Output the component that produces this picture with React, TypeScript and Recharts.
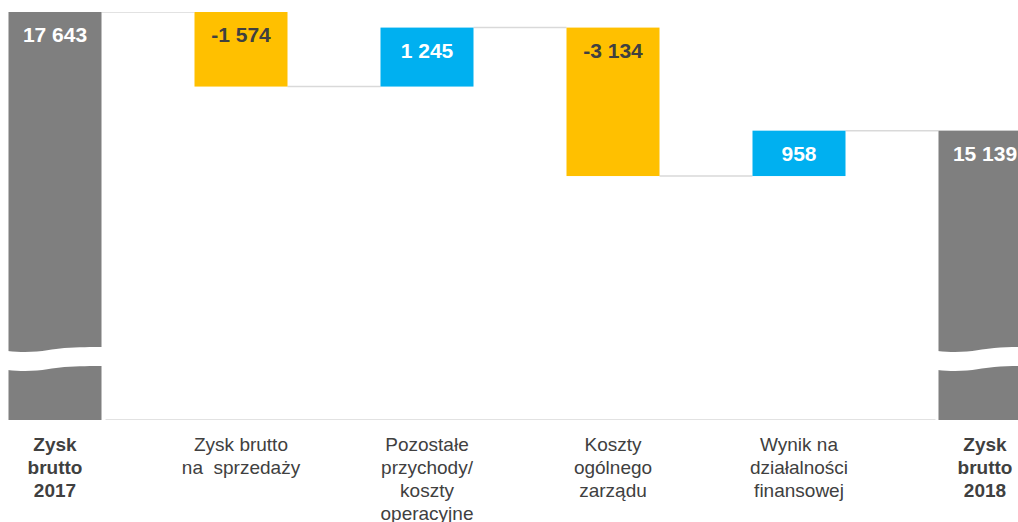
import { BarChart, Bar, XAxis, YAxis } from "recharts";

const CATEGORIES = [
  "Zysk\nbrutto\n2017",
  "Zysk brutto\nna  sprzedaży",
  "Pozostałe\nprzychody/\nkoszty\noperacyjne",
  "Koszty\nogólnego\nzarządu",
  "Wynik na\ndziałalności\nfinansowej",
  "Zysk\nbrutto\n2018",
];
const VALUES = [17643, -1574, 1245, -3134, 958, 15139];
const IS_TOTAL = [true, false, false, false, false, true];
// axis is broken, bars start from this value
const AXIS_FLOOR = 9030;
const AXIS_TOP = 17643;

const GRAY = "#7f7f7f";
const YELLOW = "#ffc000";
const BLUE = "#00b0f0";
const LINE = "#d9d9d9";
const TEXT = "#404040";
const FONT = "'Liberation Sans', Arial, sans-serif";

const fmt = (v: number) => {
  const s = Math.abs(v).toString().replace(/\B(?=(\d{3})+(?!\d))/g, " ");
  return v < 0 ? "-" + s : s;
};

let running = 0;
const data = CATEGORIES.map((name, i) => {
  const v = VALUES[i];
  if (IS_TOTAL[i]) {
    running = v;
    return { name, range: [AXIS_FLOOR, v], value: v, total: true, idx: i };
  }
  const start = running;
  const end = running + v;
  running = end;
  return {
    name,
    range: [Math.min(start, end), Math.max(start, end)],
    value: v,
    total: false,
    idx: i,
  };
});

function WaterfallBar(props: any) {
  const { x, y, width, height, payload, background } = props;
  const p = payload;
  const gap = width / 2;
  const last = p.idx === data.length - 1;
  const first = p.idx === 0;
  const fill = p.total ? GRAY : p.value < 0 ? YELLOW : BLUE;
  const labelColor = !p.total && p.value < 0 ? TEXT : "#ffffff";
  const endY = p.value < 0 && !p.total ? y + height : y;
  // plot bottom (axis line)
  const axisY = background ? background.y + background.height : 420;

  let baseFrom = x - gap;
  let baseTo = x + width + gap;
  if (first) baseFrom = x + width + 4;
  if (last) baseTo = x - 3;

  // break band on the total bars
  const bt = axisY - 70;
  const breakPath =
    `M ${x - 1} ${bt + 1} C ${x + width * 0.3} ${bt + 4}, ${x + width * 0.45} ${bt - 1}, ${x + width * 0.6} ${bt - 2} ` +
    `C ${x + width * 0.75} ${bt - 3}, ${x + width * 0.9} ${bt - 3}, ${x + width + 1} ${bt - 3} ` +
    `L ${x + width + 1} ${bt + 16} ` +
    `C ${x + width * 0.9} ${bt + 16}, ${x + width * 0.75} ${bt + 16}, ${x + width * 0.6} ${bt + 17} ` +
    `C ${x + width * 0.45} ${bt + 18}, ${x + width * 0.3} ${bt + 23}, ${x - 1} ${bt + 20} Z`;

  return (
    <g>
      <line x1={baseFrom} x2={baseTo} y1={axisY} y2={axisY} stroke={LINE} strokeWidth={1.5} />
      {!last ? (
        <line x1={x + width} x2={x + width + 2 * gap} y1={endY} y2={endY} stroke={LINE} strokeWidth={1.5} />
      ) : null}
      <rect x={x} y={y} width={width} height={height} fill={fill} />
      {p.total ? <path d={breakPath} fill="#ffffff" /> : null}
      <text
        x={x + width / 2}
        y={y + 30}
        textAnchor="middle"
        fill={labelColor}
        fontFamily={FONT}
        fontWeight="bold"
        fontSize={21}
      >
        {fmt(p.value)}
      </text>
    </g>
  );
}

function CategoryTick(props: any) {
  const { x, y, payload } = props;
  const i = CATEGORIES.indexOf(payload.value);
  const lines = String(payload.value).split("\n");
  return (
    <text
      x={x}
      y={y + 31}
      textAnchor="middle"
      fill={TEXT}
      fontFamily={FONT}
      fontSize={19}
      fontWeight={IS_TOTAL[i] ? "bold" : "normal"}
      style={{ whiteSpace: "pre" }}
    >
      {lines.map((l, k) => (
        <tspan key={k} x={x} dy={k === 0 ? 0 : 23}>
          {l}
        </tspan>
      ))}
    </text>
  );
}

export default function App() {
  return (
    <div
      style={{
        position: "absolute",
        left: 0,
        top: 0,
        width: 1018,
        height: 522,
        overflow: "hidden",
        background: "#ffffff",
      }}
    >
      <div style={{ marginLeft: -38 }}>
        <BarChart
          width={1116}
          height={522}
          data={data}
          margin={{ top: 12, right: 0, bottom: 0, left: 0 }}
          barCategoryGap="25%"
        >
          <XAxis
            dataKey="name"
            height={102}
            axisLine={false}
            tickLine={false}
            tickSize={0}
            tickMargin={0}
            interval={0}
            tick={<CategoryTick />}
          />
          <YAxis hide domain={[AXIS_FLOOR, AXIS_TOP]} allowDataOverflow />
          <Bar dataKey="range" shape={<WaterfallBar />} isAnimationActive={false} />
        </BarChart>
      </div>
    </div>
  );
}
